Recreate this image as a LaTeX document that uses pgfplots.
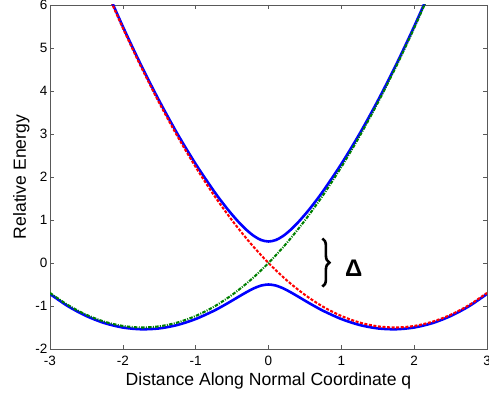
\documentclass[border=0pt]{standalone}
\usepackage{pgfplots}
\pgfplotsset{compat=1.18}
\usepackage{fontspec}
\setmainfont{Liberation Sans}
\usetikzlibrary{decorations.pathreplacing}
\definecolor{mgreen}{rgb}{0,0.5,0}
\begin{document}
\begin{tikzpicture}
\begin{axis}[name=ax, scale only axis, width=437bp, height=344bp,
  xmin=-3, xmax=3, ymin=-2, ymax=6,
  xtick={-3,-2,-1,0,1,2,3}, ytick={-2,-1,0,1,2,3,4,5,6},
  tick align=inside, major tick length=4bp,
  axis line style={black!65, line width=0.6pt},
  tick style={black!65, line width=0.6pt},
  /pgf/number format/assume math mode=true,
  ticklabel style={font=\fontsize{13.5bp}{15bp}\selectfont},
  label style={font=\fontsize{17.6bp}{20bp}\selectfont},
  xticklabel style={yshift=-3.5bp},
  yticklabel style={xshift=1bp},
  xlabel={Distance Along Normal Coordinate q},
  ylabel={Relative Energy},
  xlabel style={yshift=0bp},
  ylabel style={yshift=-1bp},
]
% adiabats
\addplot[blue, line width=2.6pt, smooth] coordinates {
(-2.5,7.484) (-2.25,6.460) (-2,5.5) (-1.75,4.603) (-1.5,3.771) (-1.25,3.003) (-1,2.303)
(-0.75,1.673) (-0.6,1.333) (-0.5,1.125) (-0.4,0.934) (-0.3,0.766) (-0.2,0.628) (-0.1,0.534)
(0,0.5) (0.1,0.534) (0.2,0.628) (0.3,0.766) (0.4,0.934) (0.5,1.125) (0.6,1.333) (0.75,1.673)
(1,2.303) (1.25,3.003) (1.5,3.771) (1.75,4.603) (2,5.5) (2.25,6.460) (2.5,7.484)};
\addplot[blue, line width=2.6pt, smooth] coordinates {
(-3,-0.720) (-2.75,-1.008) (-2.5,-1.234) (-2.25,-1.398) (-2,-1.5) (-1.75,-1.541) (-1.5,-1.521)
(-1.25,-1.441) (-1,-1.303) (-0.75,-1.111) (-0.6,-0.973) (-0.5,-0.875) (-0.4,-0.774) (-0.3,-0.676)
(-0.2,-0.588) (-0.1,-0.524) (0,-0.5) (0.1,-0.524) (0.2,-0.588) (0.3,-0.676) (0.4,-0.774)
(0.5,-0.875) (0.6,-0.973) (0.75,-1.111) (1,-1.303) (1.25,-1.441) (1.5,-1.521) (1.75,-1.541)
(2,-1.5) (2.25,-1.398) (2.5,-1.234) (2.75,-1.008) (3,-0.720)};
% diabats
\addplot[red, line width=2.1pt, smooth, dash pattern=on 3pt off 1.6pt] coordinates {
(-2.5,7.455) (-2.25,6.428) (-2,5.464) (-1.75,4.562) (-1.5,3.723) (-1.25,2.946) (-1,2.232)
(-0.75,1.580) (-0.5,0.991) (-0.25,0.464) (0,0) (0.25,-0.402) (0.5,-0.741) (0.75,-1.018)
(1,-1.232) (1.25,-1.384) (1.5,-1.473) (1.75,-1.500) (2,-1.464) (2.25,-1.366) (2.5,-1.205)
(2.75,-0.982) (3,-0.696)};
\addplot[mgreen, line width=2.1pt, smooth, dash pattern=on 3.5pt off 1.3pt on 1pt off 1.3pt] coordinates {
(-3,-0.696) (-2.75,-0.982) (-2.5,-1.205) (-2.25,-1.366) (-2,-1.464) (-1.75,-1.500) (-1.5,-1.473)
(-1.25,-1.384) (-1,-1.232) (-0.75,-1.018) (-0.5,-0.741) (-0.25,-0.402) (0,0) (0.25,0.464)
(0.5,0.991) (0.75,1.580) (1,2.232) (1.25,2.946) (1.5,3.723) (1.75,4.562) (2,5.464)
(2.25,6.428) (2.5,7.455)};
\draw[black, line width=2.6bp, decorate, decoration={brace, amplitude=7bp}]
  (axis cs:0.74,0.57) -- (axis cs:0.74,-0.55);
\node[font=\bfseries\fontsize{24bp}{28bp}\selectfont] at (axis cs:1.17,-0.12) {Δ};
\end{axis}
\pgfresetboundingbox
\path[use as bounding box] ([shift={(-50bp,-52bp)}]ax.south west) rectangle ([shift={(2bp,5bp)}]ax.north east);
\end{tikzpicture}
\end{document}
